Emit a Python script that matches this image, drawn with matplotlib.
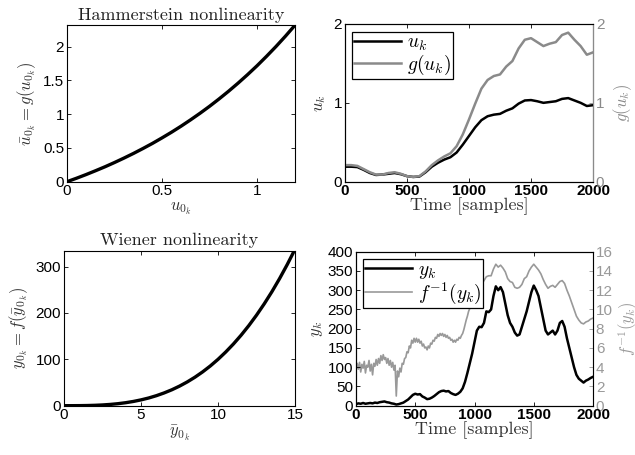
import numpy as np
import matplotlib
matplotlib.use('agg')
import matplotlib.pyplot as plt

plt.rcParams['font.family'] = ['Liberation Sans', 'DejaVu Sans']
plt.rcParams['mathtext.fontset'] = 'cm'
plt.rcParams['xtick.direction'] = 'in'
plt.rcParams['ytick.direction'] = 'in'
plt.rcParams['axes.linewidth'] = 0.8

# Hammerstein nonlinearity
u0 = [0, 0.05, 0.1, 0.15, 0.2, 0.25, 0.3, 0.35, 0.4, 0.45, 0.5, 0.55, 0.6,
      0.65, 0.7, 0.75, 0.8, 0.85, 0.9, 0.95, 1.0, 1.05, 1.1, 1.15, 1.2]
g_u0 = [0, 0.051, 0.105, 0.162, 0.221, 0.284, 0.350, 0.419, 0.492, 0.568,
        0.649, 0.733, 0.822, 0.916, 1.014, 1.117, 1.226, 1.340, 1.460,
        1.586, 1.718, 1.858, 2.004, 2.158, 2.320]

# Wiener nonlinearity
y0 = [0, 0.5, 1, 1.5, 2, 2.5, 3, 3.5, 4, 4.5, 5, 5.5, 6, 6.5, 7, 7.5, 8,
      8.5, 9, 9.5, 10, 10.5, 11, 11.5, 12, 12.5, 13, 13.5, 14, 14.5, 15]
f_y0 = [0, 0.01, 0.1, 0.34, 0.8, 1.56, 2.7, 4.29, 6.4, 9.11, 12.5, 16.6,
        21.6, 27.5, 34.3, 42.2, 51.2, 61.4, 72.9, 85.7, 100, 115.8, 133.1,
        152.1, 172.8, 195.3, 219.7, 246.0, 274.4, 304.9, 337.5]

# input signal and its transformed version
t_u = list(range(0, 2001, 50))
u_k = [0.19, 0.19, 0.185, 0.15, 0.11, 0.085, 0.09, 0.10, 0.11, 0.095, 0.07,
       0.06, 0.065, 0.12, 0.19, 0.24, 0.28, 0.31, 0.37, 0.47, 0.58, 0.69,
       0.78, 0.83, 0.85, 0.86, 0.90, 0.93, 0.99, 1.03, 1.035, 1.02, 1.00,
       1.01, 1.02, 1.05, 1.06, 1.03, 1.00, 0.96, 0.97]
g_uk = [0.21, 0.21, 0.20, 0.16, 0.12, 0.09, 0.09, 0.11, 0.12, 0.10, 0.07,
        0.06, 0.07, 0.13, 0.21, 0.27, 0.32, 0.36, 0.45, 0.60, 0.79, 0.99,
        1.18, 1.29, 1.34, 1.36, 1.46, 1.53, 1.69, 1.80, 1.82, 1.77, 1.72,
        1.75, 1.77, 1.86, 1.89, 1.80, 1.72, 1.61, 1.64]

# output signal
t_y = list(range(0, 2001, 20))
y_k = [4, 6, 5, 7, 5, 6, 7, 6, 8, 7, 9, 10, 11, 9, 8, 6, 5, 3, 4, 6, 8, 12,
       16, 22, 28, 31, 29, 30, 24, 21, 17, 18, 21, 25, 30, 35, 38, 39, 37,
       38, 33, 30, 28, 31, 36, 45, 62, 85, 110, 135, 165, 195, 205, 204, 215,
       245, 243, 250, 285, 310, 300, 308, 295, 265, 235, 215, 205, 190, 182,
       185, 205, 225, 245, 270, 295, 312, 300, 285, 255, 225, 195, 185, 190,
       195, 185, 195, 215, 220, 205, 175, 150, 125, 100, 80, 70, 65, 60, 65,
       68, 72, 75]

t_inv = list(range(0, 1001, 10)) + list(range(1020, 2001, 20))
finv_yk = [3.6, 4.4, 3.8, 4.5, 3.5, 4.3, 3.9, 4.6, 3.4, 4.2, 4.0, 4.7, 3.6,
           4.3, 3.2, 4.4, 4.1, 4.8, 4.2, 4.9, 4.4, 5.2, 4.7, 5.3, 4.8, 5.0,
           4.4, 4.9, 4.2, 4.7, 4.0, 4.5, 3.7, 4.2, 1.0, 3.6, 3.0, 3.9, 3.5,
           4.4, 4.3, 4.9, 5.0, 5.6, 5.5, 6.2, 6.0, 6.8, 6.5, 7.0, 6.6, 7.0,
           6.6, 6.9, 6.5, 6.7, 6.2, 6.4, 6.0, 6.1, 5.8, 6.2, 6.0, 6.5, 6.4,
           6.8, 6.7, 7.1, 7.0, 7.4, 7.2, 7.5, 7.3, 7.5, 7.2, 7.4, 7.1, 7.3,
           7.0, 7.1, 6.8, 6.9, 6.6, 6.8, 6.6, 6.9, 6.8, 7.1, 7.0, 7.3, 7.5,
           7.9, 8.4, 8.9, 9.3, 9.8, 10.1, 10.6, 10.8, 11.2, 11.6,
           12.4, 12.8, 12.6, 13.0, 13.4, 13.5, 13.5, 14.2, 14.7, 14.4, 14.6,
           14.3, 13.9, 13.2, 12.9, 12.8, 12.3, 12.2, 12.3, 12.6, 13.2, 13.4,
           14.0, 14.4, 14.7, 14.4, 14.1, 13.7, 13.1, 12.6, 12.2, 12.4, 12.5,
           12.3, 12.6, 12.9, 13.0, 12.7, 12.0, 11.4, 10.7, 10.0, 9.3, 8.9,
           8.6, 8.5, 8.7, 8.8, 9.0, 9.1]

gray1 = '#8a8a8a'
gray2 = '#999999'
serif = 'cmr10'
TICK = 11
LAB = 12

fig = plt.figure(figsize=(6.35, 4.55), dpi=100)


def box_ticks(ax):
    ax.tick_params(top=True, right=True, labelsize=TICK, length=3,
                   width=0.6, pad=2)


def small_legend(ax, handles, labels):
    leg = ax.legend(handles, labels, loc='upper left', fontsize=14,
                    fancybox=False, edgecolor='black', framealpha=1,
                    handlelength=2.4, borderpad=0.1, labelspacing=0.0,
                    handletextpad=0.3, borderaxespad=0,
                    bbox_to_anchor=(0.03, 0.95))
    leg.get_frame().set_linewidth(0.9)
    return leg


# top left
ax1 = fig.add_axes([0.1055, 0.6007, 0.3591, 0.344])
ax1.plot(u0, g_u0, color='black', lw=2.4, solid_capstyle='butt')
ax1.set_xlim(0, 1.2)
ax1.set_ylim(0, 2.32)
ax1.set_xticks([0, 0.5, 1])
ax1.set_yticks([0, 0.5, 1, 1.5, 2])
ax1.set_xticklabels(['0', '0.5', '1'])
ax1.set_yticklabels(['0', '0.5', '1', '1.5', '2'])
box_ticks(ax1)
ax1.set_title('Hammerstein nonlinearity', family=serif, fontsize=13,
              color='#222', pad=4)
ax1.set_xlabel(r'$u_{0_k}$', fontsize=LAB, color='#333', labelpad=1)
ax1.set_ylabel(r'$\bar{u}_{0_k} = g(u_{0_k})$', fontsize=LAB, color='#333',
               labelpad=4)

# top right
ax2 = fig.add_axes([0.5433, 0.6007, 0.3906, 0.3466])
l1, = ax2.plot(t_u, u_k, color='black', lw=1.8)
ax2r = ax2.twinx()
l2, = ax2r.plot(t_u, g_uk, color=gray1, lw=1.8)
ax2.set_xlim(0, 2000)
ax2.set_ylim(0, 2)
ax2r.set_ylim(0, 2)
ax2.set_xticks([0, 500, 1000, 1500, 2000])
ax2.set_yticks([0, 1, 2])
ax2r.set_yticks([0, 1, 2])
ax2.tick_params(top=True, labelsize=TICK, length=3, width=0.6, pad=2)
ax2r.tick_params(labelsize=TICK, length=3, width=0.6, pad=2, colors=gray1)
ax2r.spines['right'].set_color(gray1)
for lab in ax2.get_xticklabels():
    lab.set_fontweight('bold')
ax2.set_xlabel('Time [samples]', family=serif, fontsize=13, color='#333',
               labelpad=-1)
ax2.set_ylabel(r'$u_k$', fontsize=LAB, color='#333', labelpad=4)
ax2r.set_ylabel(r'$g(u_k)$', fontsize=LAB, color=gray1, labelpad=5)
small_legend(ax2r, [l1, l2], [r'$u_k$', r'$g(u_k)$'])

# bottom left
ax3 = fig.add_axes([0.1008, 0.1084, 0.3638, 0.3407])
ax3.plot(y0, f_y0, color='black', lw=2.4, solid_capstyle='butt')
ax3.set_xlim(0, 15)
ax3.set_ylim(0, 334.5)
ax3.set_xticks([0, 5, 10, 15])
ax3.set_yticks([0, 100, 200, 300])
box_ticks(ax3)
ax3.set_title('Wiener nonlinearity', family=serif, fontsize=13,
              color='#222', pad=4)
ax3.set_xlabel(r'$\bar{y}_{0_k}$', fontsize=LAB, color='#333', labelpad=1)
ax3.set_ylabel(r'$y_{0_k} = f(\bar{y}_{0_k})$', fontsize=LAB, color='#333',
               labelpad=4)

# bottom right
ax4 = fig.add_axes([0.5606, 0.1084, 0.3733, 0.3384])
ax4r = ax4.twinx()
l4, = ax4r.plot(t_inv, finv_yk, color=gray2, lw=1.2)
l3, = ax4.plot(t_y, y_k, color='black', lw=1.8)
ax4.set_zorder(ax4r.get_zorder() + 1)
ax4.patch.set_visible(False)
ax4.set_xlim(0, 2000)
ax4.set_ylim(0, 400)
ax4r.set_ylim(0, 16)
ax4.set_xticks([0, 500, 1000, 1500, 2000])
ax4.set_yticks(list(range(0, 401, 50)))
ax4r.set_yticks(list(range(0, 17, 2)))
ax4.tick_params(top=True, labelsize=TICK, length=3, width=0.6, pad=2)
ax4r.tick_params(labelsize=TICK, length=3, width=0.6, pad=2, colors=gray2)
ax4r.spines['right'].set_color(gray2)
for lab in ax4.get_xticklabels():
    lab.set_fontweight('bold')
ax4.set_xlabel('Time [samples]', family=serif, fontsize=13, color='#333',
               labelpad=-1)
ax4.set_ylabel(r'$y_k$', fontsize=LAB, color='#333', labelpad=2)
ax4r.set_ylabel(r'$f^{-1}(y_k)$', fontsize=LAB, color=gray2, labelpad=3)
small_legend(ax4, [l3, l4], [r'$y_k$', r'$f^{-1}(y_k)$'])

fig.savefig('out.png', dpi=100)
